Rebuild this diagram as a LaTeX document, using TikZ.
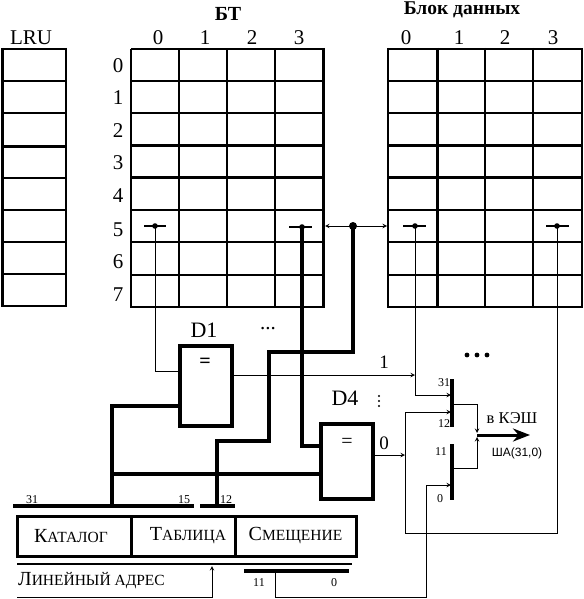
\documentclass[tikz,border=0pt]{standalone}
\usepackage{fontspec}
\setmainfont{Liberation Serif}
\newfontfamily\labelfont{Liberation Sans}
\usetikzlibrary{arrows.meta}
\newcommand{\smcaps}[2]{{\fontsize{20}{20}\selectfont #1}{\fontsize{15.5}{15.5}\selectfont #2}}
\begin{document}
\begin{tikzpicture}[x=1pt, y=-1pt, >=stealth, line cap=butt,
    txt/.style={inner sep=0pt, font=\fontsize{21}{21}\selectfont},
    small/.style={inner sep=0pt, font=\fontsize{12}{12}\selectfont},
    wire/.style={line width=1pt},
    bus/.style={line width=3.2pt},
    bar/.style={line width=3.2pt},
    gridline/.style={line width=1.8pt},
    heavyline/.style={line width=3pt},
    cmp/.style={draw, line width=4pt, inner sep=0pt}]

    \useasboundingbox (0,0) rectangle (583,599);

    % LRU column
    \foreach \y in {49,81,113,178,210,242,274,306} \draw[gridline] (2,\y) -- (66,\y);
    \draw[heavyline] (2,146) -- (66,146);
    \draw[heavyline] (2,48) -- (2,307);
    \draw[gridline] (66,48) -- (66,307);
    \node[txt] (lru) at (31,38) {LRU};

    % BT
    \foreach \y in {49,81,113,210,242,275} \draw[gridline] (131,\y) -- (323,\y);
    \draw[heavyline] (131,145) -- (323,145);
    \draw[heavyline] (131,177) -- (323,177);
    \draw[gridline] (130,307) -- (324,307);
    \foreach \x in {131,179,227,275} \draw[gridline] (\x,49) -- (\x,307);
    \draw[heavyline] (323,48) -- (323,308);
    \node[txt, font=\fontsize{20}{20}\selectfont\bfseries] (bt) at (228,14) {БТ};
    \foreach \i/\x in {0/158,1/205,2/252,3/299} \node[txt] (btc\i) at (\x,38) {\i};
    \foreach \i/\y in {0/66,1/98,2/131,3/163,4/196,5/230,6/262,7/295} \node[txt] (row\i) at (118,\y) {\i};

    % Data block
    \foreach \y in {49,81,113,210,242,275,307} \draw[gridline] (388,\y) -- (582,\y);
    \draw[heavyline] (388,145) -- (582,145);
    \draw[heavyline] (388,177) -- (582,177);
    \foreach \x in {388,485,533,582} \draw[gridline] (\x,48) -- (\x,308);
    \draw[heavyline] (437,48) -- (437,308);
    \node[txt, font=\fontsize{19.5}{19.5}\selectfont\bfseries] (data) at (462,9.5) {Блок данных};
    \foreach \i/\x in {0/406,1/459,2/505,3/553} \node[txt] (datac\i) at (\x,38) {\i};

    % Taps on row 5
    \coordinate (tapa) at (155,226);
    \coordinate (tapb) at (302,227);
    \coordinate (tapc) at (415,226);
    \coordinate (tapd) at (557,226);
    \coordinate (tape) at (353,226);
    \coordinate (btr) at (325,226);
    \coordinate (datal) at (387,226);
    \draw[line width=2pt] (144,226) -- (166,226);
    \draw[line width=2pt] (289,227) -- (312,227);
    \draw[line width=2pt] (403,226) -- (426,226);
    \draw[line width=2pt] (546,226) -- (569,226);
    \foreach \p in {tapa,tapb,tapc,tapd} \fill (\p) circle[radius=2.8pt];
    \fill (tape) circle[radius=4pt];
    \draw[wire, <->] (btr) -- (datal);

    % Comparators
    \node[cmp, minimum width=52pt, minimum height=80pt] (D1) at (205.5,386) {};
    \node[cmp, minimum width=52pt, minimum height=75pt] (D4) at (347,461.5) {};
    \node[inner sep=0pt, font=\fontsize{20}{20}\selectfont\bfseries] (eqa) at (205,363) {=};
    \node[inner sep=0pt, font=\fontsize{20}{20}\selectfont] (eqb) at (347,443) {=};
    \node[txt, font=\fontsize{22}{22}\selectfont] (D1label) at (204,330) {D1};
    \node[txt, font=\fontsize{22}{22}\selectfont] (D4label) at (345,398) {D4};
    \node[txt] (dotsa) at (268,329) {...};
    \foreach \x in {467,477,487} \fill (\x,355) circle[radius=2.4pt];
    \foreach \y in {396,401,406} \fill (379,\y) circle[radius=1.2pt];
    \node[txt, font=\fontsize{19}{19}\selectfont] (one) at (384,362) {1};
    \node[txt, font=\fontsize{19}{19}\selectfont] (zero) at (384,443) {0};

    % Address register
    \node[draw, line width=3pt, minimum width=114pt, minimum height=40pt, inner sep=0pt] (dir) at (74,536) {\kern-6pt\smcaps{К}{АТАЛОГ}};
    \node[draw, line width=3pt, minimum width=104pt, minimum height=40pt, inner sep=0pt, text width=86pt, align=right] (tbl) at (183,536) {\smcaps{Т}{АБЛИЦА}};
    \node[draw, line width=3pt, minimum width=121pt, minimum height=40pt, inner sep=0pt] (off) at (295.5,536) {\smcaps{С}{МЕЩЕНИЕ}};
    \draw[line width=2pt] (17,564) -- (352,564);
    \node[inner sep=0pt, anchor=west] (addr) at (18,581) {\smcaps{Л}{ИНЕЙНЫЙ АДРЕС}};
    \coordinate (addra) at (17,597);
    \coordinate (addrb) at (212,597);
    \coordinate (addrc) at (212,566);
    \draw[wire, ->] (addra) -- (addrb) -- (addrc);

    % Buses above the address
    \node[small] (bit31) at (32,500) {31};
    \node[small] (bit15) at (184,500) {15};
    \node[small] (bit12) at (226,500) {12};
    \coordinate (busa) at (13,506);
    \coordinate (busb) at (194,506);
    \coordinate (busc) at (200,506);
    \coordinate (busd) at (235,506);
    \draw[bus] (busa) -- (busb);
    \draw[bus] (busc) -- (busd);

    % Thick wires
    \coordinate (ka) at (112,506);
    \coordinate (kb) at (112,406);
    \coordinate (kc) at (112,474);
    \coordinate (ta) at (217,506);
    \coordinate (tb) at (217,441);
    \coordinate (tc) at (269,441);
    \coordinate (td) at (269,352);
    \coordinate (te) at (353,352);
    \draw[bus] (ka) -- (kb) -- (D1.west |- kb);
    \draw[bus] (kc) -- (D4.west |- kc);
    \draw[bus] (ta) -- (tb) -- (tc) -- (td) -- (te) -- (tape);
    \coordinate (tf) at (302,446);
    \draw[bus] (tapb) -- (tf) -- (D4.west |- tf);

    % Thin wires to the comparators
    \coordinate (aa) at (155,371);
    \draw[wire] (tapa) -- (aa) -- (D1.west |- aa);

    % Multiplexer
    \coordinate (muxa) at (452,379);
    \coordinate (muxb) at (452,427);
    \coordinate (muxc) at (452,444);
    \coordinate (muxd) at (452,500);
    \draw[bar] (muxa) -- (muxb);
    \draw[bar] (muxc) -- (muxd);
    \node[small] (m31) at (444,383) {31};
    \node[small] (m12) at (444,424) {12};
    \node[small] (m11) at (441,452) {11};
    \node[small] (m0) at (440,499) {0};

    \coordinate (hita) at (415,375);
    \coordinate (hitb) at (415,395);
    \coordinate (hitc) at (451,395);
    \draw[wire, ->] (D1.east |- hita) -- (hita);
    \draw[wire, ->] (tapc) -- (hitb) -- (hitc);

    \coordinate (maina) at (405,455);
    \coordinate (mainb) at (405,412);
    \coordinate (mainc) at (451,412);
    \coordinate (maind) at (405,533);
    \coordinate (maine) at (557,533);
    \draw[wire, ->] (D4.east |- maina) -- (maina);
    \draw[wire, ->] (tapd) -- (maine) -- (maind) -- (mainb) -- (mainc);

    % Outputs of the bars
    \coordinate (outa) at (452,404);
    \coordinate (outb) at (477,404);
    \coordinate (outc) at (477,433);
    \coordinate (outd) at (452,468);
    \coordinate (oute) at (477,468);
    \coordinate (outf) at (477,437);
    \coordinate (outg) at (530,435);
    \coordinate (outh) at (477,435);
    \draw[wire, ->] (outa) -- (outb) -- (outc);
    \draw[wire, ->] (outd) -- (oute) -- (outf);
    \draw[line width=3pt, -{Stealth[length=17pt,width=13pt]}] (outh) -- (outg);
    \node[inner sep=0pt, font=\fontsize{16.5}{16.5}\selectfont] (cache) at (512,418) {в КЭШ};
    \node[inner sep=0pt, font=\labelfont\fontsize{12}{12}\selectfont] (bus) at (517,453) {ША(31,0)};

    % Offset low bits
    \draw[bar] (244,571) -- (349,571);
    \node[small] (low11) at (259,583) {11};
    \node[small] (low0) at (334,583) {0};
    \coordinate (lowa) at (275,572);
    \coordinate (lowb) at (275,597);
    \coordinate (lowc) at (426,597);
    \coordinate (lowd) at (426,485);
    \coordinate (lowe) at (451,485);
    \draw[wire, ->] (lowa) -- (lowb) -- (lowc) -- (lowd) -- (lowe);

\end{tikzpicture}
\end{document}
